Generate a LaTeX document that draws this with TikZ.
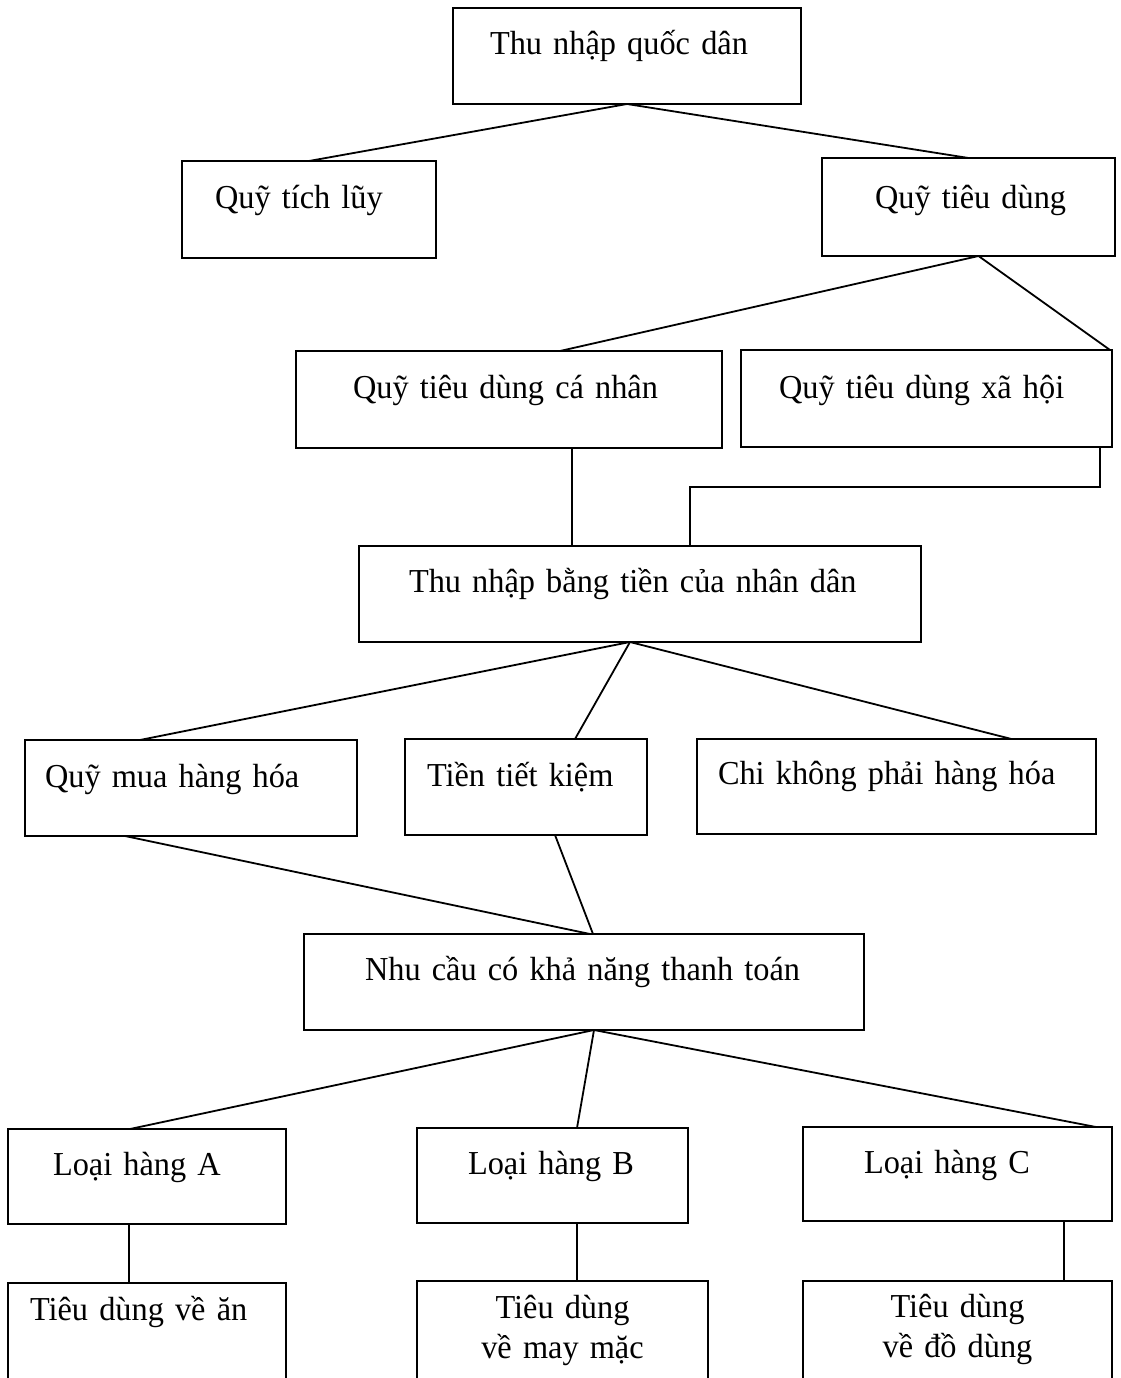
\documentclass[tikz,border=0pt]{standalone}
\usepackage{fontspec}
\setmainfont[FakeStretch=0.965]{Liberation Serif}
\begin{document}
\begin{tikzpicture}[x=1pt,y=-1pt,
  % box: {width}{height above baseline}{depth below baseline}{left indent}
  bx/.style n args={4}{draw, line width=2.4pt, anchor=north,
    inner xsep=0pt, inner ysep=0pt, outer sep=0pt, align=left,
    font=\fontsize{33.5}{40}\selectfont,
    text width=#1pt, text height=#2pt, text depth=#3pt,
    execute at begin node={\hspace*{#4pt}}},
  link/.style={line width=1.8pt}]
\useasboundingbox (0,0) rectangle (1120,1378);
\clip (0,0) rectangle (1120,1378);

% boxes
\node[bx={348}{47}{49}{37}] (q) at (627,8) {Thu nhập quốc dân};
\node[bx={254}{47}{50}{33}] (tl) at (309,161) {Quỹ tích lũy};
\node[bx={293}{50}{48}{53}] (td) at (968.5,158) {Quỹ tiêu dùng};
\node[bx={426}{47}{50}{57}] (cn) at (509,351) {Quỹ tiêu dùng cá nhân};
\node[bx={371}{48}{49}{38}] (xh) at (926.5,350) {Quỹ tiêu dùng xã hội};
\node[bx={562}{46}{50}{50}] (tn) at (640,546) {Thu nhập bằng tiền của nhân dân};
\node[bx={332}{47}{49}{20}] (mh) at (191,740) {Quỹ mua hàng hóa};
\node[bx={242}{47}{49}{22}] (tk) at (526,739) {Tiền tiết kiệm};
\node[bx={399}{45}{50}{21}] (ck) at (896.5,739) {Chi không phải hàng hóa};
\node[bx={560}{46}{50}{61}] (nc) at (584,934) {Nhu cầu có khả năng thanh toán};
\node[bx={278}{46}{49}{45}] (la) at (147,1129) {Loại hàng A};
\node[bx={271}{46}{49}{51}] (lb) at (552.5,1128) {Loại hàng B};
\node[bx={309}{46}{48}{61}] (lc) at (957.5,1127) {Loại hàng C};
\node[bx={278}{37}{90}{22}] (ta) at (147,1283) {Tiêu dùng về ăn};
\node[bx={291}{37}{90}{0}, align=center] (tm) at (562.5,1281) {Tiêu dùng\\về may mặc};
\node[bx={309}{36}{90}{0}, align=center] (tdd) at (957.5,1281) {Tiêu dùng\\về đồ dùng};

% connectors
\draw[link] (q.south) -- (tl.north);
\draw[link] (q.south) -- (td.north);
\draw[link] ([xshift=10pt]td.south) -- ([xshift=51pt]cn.north);
\draw[link] ([xshift=10pt]td.south) -- ([xshift=-2pt]xh.north east);
\draw[link] ([xshift=63pt]cn.south) -- ([xshift=63pt]cn.south |- tn.north);
\draw[link] ([xshift=-12pt]xh.south east) -- ++(0,40) -| ([xshift=50pt]tn.north);
\draw[link] ([xshift=-10pt]tn.south) -- ([xshift=-51pt]mh.north);
\draw[link] ([xshift=-10pt]tn.south) -- ([xshift=49pt]tk.north);
\draw[link] ([xshift=-10pt]tn.south) -- ([xshift=115pt]ck.north);
\draw[link] ([xshift=-66pt]mh.south) -- ([xshift=6pt]nc.north);
\draw[link] ([xshift=29pt]tk.south) -- ([xshift=9pt]nc.north);
\draw[link] ([xshift=10pt]nc.south) -- ([xshift=-17pt]la.north);
\draw[link] ([xshift=10pt]nc.south) -- ([xshift=24.5pt]lb.north);
\draw[link] ([xshift=10pt]nc.south) -- ([xshift=-16pt]lc.north east);
\draw[link] ([xshift=-18pt]la.south) -- ([xshift=-18pt]la.south |- ta.north);
\draw[link] ([xshift=24.5pt]lb.south) -- ([xshift=24.5pt]lb.south |- tm.north);
\draw[link] ([xshift=106.5pt]lc.south) -- ([xshift=106.5pt]lc.south |- tdd.north);
\end{tikzpicture}
\end{document}
